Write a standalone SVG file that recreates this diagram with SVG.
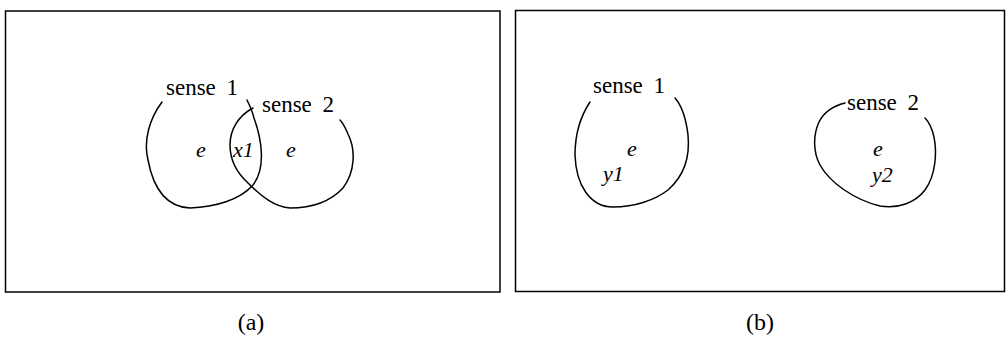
<svg xmlns="http://www.w3.org/2000/svg" width="1007" height="337" viewBox="0 0 1007 337">
<style>
.frame{fill:none;stroke:#000;stroke-width:1.5}
.curve{fill:none;stroke:#000;stroke-width:1.5;stroke-linecap:round}
.lbl{font-family:"Liberation Serif",serif;font-size:23px;word-spacing:5px;fill:#000}
.it{font-family:"Liberation Serif",serif;font-size:22px;font-style:italic;fill:#000}
.cap{font-family:"Liberation Serif",serif;font-size:24px;fill:#000;text-anchor:middle}
</style>
<rect width="1007" height="337" fill="#fff"/>
<g id="panel-a">
  <rect class="frame" x="5.5" y="11" width="494.5" height="281"/>
  <g id="a-sense1">
    <path class="curve" d="M162,102 C150,118 143,140 148,160 C154,192 168,207 190,208 C215,207 240,200 253,185 C266,168 262,140 254,118 C252,110 249,104 247,100"/>
    <text class="lbl" x="166" y="95">sense 1</text>
  </g>
  <g id="a-sense2">
    <path class="curve" d="M253,108 C238,116 230,130 230,145 C230,160 236,172 248,183 C262,197 275,207 290,208 C310,208 330,202 343,188 C355,172 356,150 348,134 C345,127 343,123 340,120"/>
    <text class="lbl" x="262" y="112">sense 2</text>
  </g>
  <text class="it" x="196" y="157">e</text>
  <text class="it" x="233" y="157">x1</text>
  <text class="it" x="286" y="157">e</text>
  <text class="cap" x="251" y="330">(a)</text>
</g>
<g id="panel-b">
  <rect class="frame" x="515.5" y="10.5" width="489" height="281"/>
  <g id="b-sense1">
    <path class="curve" d="M590,102 C580,117 575,135 575,155 C576,185 590,207 613,207 C635,207 655,200 668,190 C685,175 690,155 688,135 C686,118 682,106 675,98"/>
    <text class="lbl" x="593" y="93">sense 1</text>
    <text class="it" x="627" y="156">e</text>
    <text class="it" x="603" y="181">y1</text>
  </g>
  <g id="b-sense2">
    <path class="curve" d="M845,103 C833,106 824,112 819,122 C813,135 813,152 820,165 C830,183 855,200 880,206 C898,209 915,203 925,190 C936,175 937,152 934,137 C932,128 929,122 925,118"/>
    <text class="lbl" x="847" y="110">sense 2</text>
    <text class="it" x="873" y="156">e</text>
    <text class="it" x="872" y="182">y2</text>
  </g>
  <text class="cap" x="760" y="330">(b)</text>
</g>
</svg>
